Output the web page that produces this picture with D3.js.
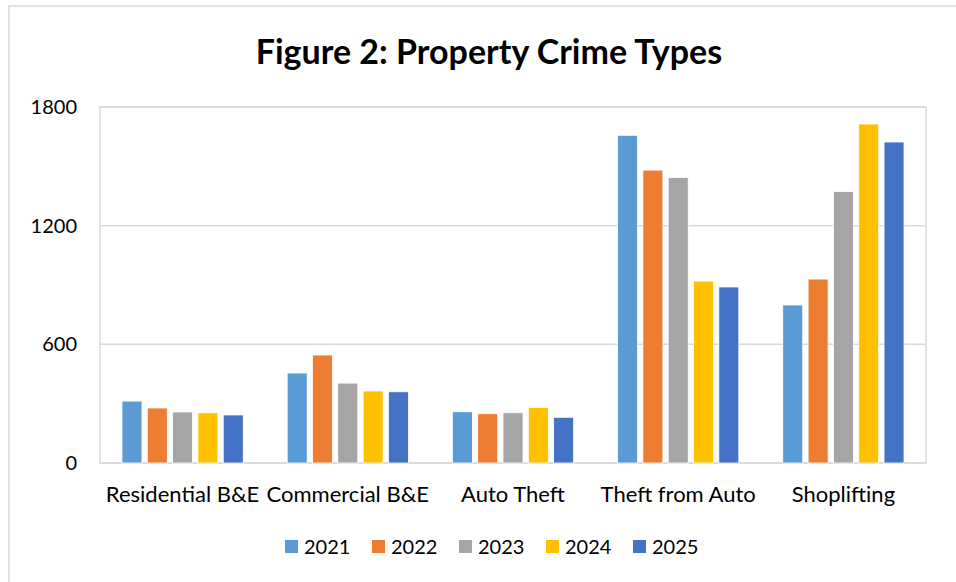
<!DOCTYPE html>
<html>
<head>
<meta charset="utf-8">
<script src="https://cdn.jsdelivr.net/npm/d3@7"></script>
<style>
  body { margin: 0; background: #fff; }
  svg { font-family: Lato, "Open Sans", sans-serif; }
  .tick-label, .legend text { font-size: 20px; fill: #000; }
  .cat-label { font-size: 22px; fill: #000; }
  .title { font-size: 34px; font-weight: bold; fill: #000; }
</style>
</head>
<body>
<svg width="956" height="582"></svg>
<script>
// Data
const categories = ["Residential B&E", "Commercial B&E", "Auto Theft", "Theft from Auto", "Shoplifting"];
const years = ["2021", "2022", "2023", "2024", "2025"];
const v2021 = [313, 455, 259, 1657, 799];
const v2022 = [278, 546, 249, 1481, 930];
const v2023 = [258, 404, 254, 1444, 1372];
const v2024 = [254, 364, 281, 920, 1714];
const v2025 = [243, 360, 231, 890, 1623];
const yTicks = [0, 600, 1200, 1800];
const colors = ["#5b9bd5", "#ed7d31", "#a5a5a5", "#ffc000", "#4472c4"];

const seriesValues = [v2021, v2022, v2023, v2024, v2025];

const svg = d3.select("svg"),
    width = +svg.attr("width"),
    height = +svg.attr("height");

const plot = { left: 100, right: 926, top: 107, bottom: 463 };

// outer chart border
svg.append("rect")
    .attr("x", 9).attr("y", 6)
    .attr("width", width).attr("height", height)
    .attr("fill", "#fff")
    .attr("stroke", "#d9d9d9")
    .attr("stroke-width", 1.5);

svg.append("text")
    .attr("class", "title")
    .attr("x", 489)
    .attr("y", 64)
    .attr("text-anchor", "middle")
    .text("Figure 2: Property Crime Types");

// Scales
const x0 = d3.scaleBand()
    .domain(categories)
    .range([plot.left, plot.right])
    .paddingInner(0.266)
    .paddingOuter(0.133);

const x1 = d3.scaleBand()
    .domain(years)
    .range([0, x0.bandwidth()])
    .paddingInner(0.21)
    .paddingOuter(0);

const y = d3.scaleLinear()
    .domain([0, 1800])
    .range([plot.bottom, plot.top]);

const color = d3.scaleOrdinal().domain(years).range(colors);

// gridlines
svg.append("g")
    .selectAll("line")
    .data(yTicks)
    .join("line")
    .attr("x1", plot.left).attr("x2", plot.right)
    .attr("y1", d => y(d)).attr("y2", d => y(d))
    .attr("stroke", "#d9d9d9")
    .attr("stroke-width", 1.5);

// plot area box
svg.append("rect")
    .attr("x", plot.left).attr("y", plot.top)
    .attr("width", plot.right - plot.left)
    .attr("height", plot.bottom - plot.top)
    .attr("fill", "none")
    .attr("stroke", "#d9d9d9")
    .attr("stroke-width", 1.5);

// y tick labels
svg.append("g")
    .selectAll("text")
    .data(yTicks)
    .join("text")
    .attr("class", "tick-label")
    .attr("x", 77)
    .attr("y", d => y(d) + 7)
    .attr("text-anchor", "end")
    .text(d => d);

// bars, one group per category
const groups = svg.append("g")
    .selectAll("g")
    .data(categories)
    .join("g")
    .attr("transform", d => `translate(${x0(d)},0)`);

groups.selectAll("rect")
    .data((c, ci) => years.map((yr, si) => ({ year: yr, value: seriesValues[si][ci] })))
    .join("rect")
    .attr("x", d => x1(d.year))
    .attr("y", d => y(d.value))
    .attr("width", x1.bandwidth())
    .attr("height", d => y(0) - y(d.value))
    .attr("fill", d => color(d.year))
    .attr("stroke", "#fff")
    .attr("stroke-width", 0.8);

// category labels
svg.append("g")
    .selectAll("text")
    .data(categories)
    .join("text")
    .attr("class", "cat-label")
    .attr("x", d => x0(d) + x0.bandwidth() / 2)
    .attr("y", 502)
    .attr("text-anchor", "middle")
    .text(d => d);

// Legend
const legendX = d3.scalePoint()
    .domain(years)
    .range([285, 633]);

const legend = svg.append("g")
    .attr("class", "legend")
    .selectAll("g")
    .data(years)
    .join("g")
    .attr("transform", d => `translate(${legendX(d)},540)`);

legend.append("rect")
    .attr("width", 13)
    .attr("height", 13)
    .attr("fill", color);

legend.append("text")
    .attr("x", 19)
    .attr("y", 13.5)
    .text(d => d);
</script>
</body>
</html>
